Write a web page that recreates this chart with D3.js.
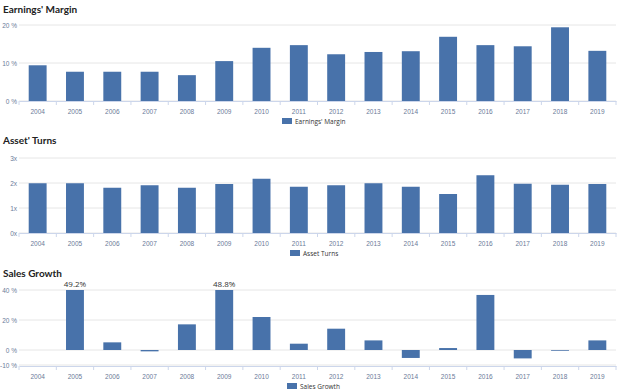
<!DOCTYPE html>
<html>
<head>
<meta charset="utf-8">
<script src="https://cdn.jsdelivr.net/npm/d3@7"></script>
<style>
  body { margin: 0; background: #fff; }
  svg { font-family: "Open Sans", "DejaVu Sans", sans-serif; }
  .title { font-family: Lato, "Open Sans", sans-serif; font-weight: bold; font-size: 10px; fill: #222; }
  .tick text { fill: #6b7a99; font-size: 6.5px; }
  .legend-text { fill: #333; font-size: 6.5px; }
</style>
</head>
<body>
<script>
const years = ["2004","2005","2006","2007","2008","2009","2010","2011","2012","2013","2014","2015","2016","2017","2018","2019"];

const earningsMargin = [9.4, 7.7, 7.7, 7.7, 6.8, 10.5, 14.0, 14.7, 12.3, 12.9, 13.1, 16.9, 14.7, 14.4, 19.4, 13.2];
const assetTurns = [1.99, 1.99, 1.81, 1.91, 1.81, 1.96, 2.17, 1.85, 1.91, 1.99, 1.85, 1.56, 2.31, 1.97, 1.93, 1.96];
const salesGrowth = [null, 49.2, 5.1, -0.9, 17.1, 48.8, 22.0, 4.2, 14.2, 6.4, -5.3, 1.3, 36.7, -5.6, -0.5, 6.4];

const marginTicks = [0, 10, 20];
const turnsTicks = [0, 1, 2, 3];
const growthTicks = [-10, 0, 20, 40];

const width = 624, height = 392;
const color = "#4872aa";

const svg = d3.select("body").append("svg")
  .attr("width", width)
  .attr("height", height);

const x = d3.scaleBand().domain(years).range([19, 616]).paddingInner(0.52).paddingOuter(0.26);

function panel(opts) {
  const g = svg.append("g");
  const y = d3.scaleLinear().domain(opts.domain).range([opts.bottom, opts.top]);

  g.append("text").attr("class", "title")
    .attr("x", 3).attr("y", opts.titleY)
    .text(opts.title);

  // grid
  g.selectAll(".grid").data(opts.ticks).enter().append("line")
    .attr("x1", 19).attr("x2", 616)
    .attr("y1", d => y(d)).attr("y2", d => y(d))
    .attr("stroke", "#e6e6e6").attr("stroke-width", 1);

  const yAxis = g.append("g")
    .attr("transform", "translate(17,0)")
    .call(d3.axisLeft(y).tickValues(opts.ticks).tickSize(0).tickPadding(0).tickFormat(opts.fmt));
  yAxis.select(".domain").remove();

  const cap = opts.cap;
  g.selectAll(".bar").data(years.map((yr, i) => ({yr, v: opts.values[i]})).filter(d => d.v !== null))
    .enter().append("rect")
    .attr("x", d => x(d.yr))
    .attr("width", x.bandwidth())
    .attr("y", d => y(Math.max(0, cap !== undefined ? Math.min(d.v, cap) : d.v)))
    .attr("height", d => Math.abs(y(cap !== undefined ? Math.min(d.v, cap) : d.v) - y(0)))
    .attr("fill", color);

  if (cap !== undefined) {
    g.selectAll(".lbl").data(years.map((yr, i) => ({yr, v: opts.values[i]})).filter(d => d.v !== null && d.v > cap))
      .enter().append("text")
      .attr("x", d => x(d.yr) + x.bandwidth() / 2)
      .attr("y", y(cap) - 3)
      .attr("text-anchor", "middle")
      .attr("font-size", "8px")
      .attr("fill", "#333")
      .text(d => d.v.toFixed(1) + "%");
  }

  const axisY = opts.axisY;
  const xAxis = g.append("g")
    .attr("transform", `translate(0,${axisY})`)
    .call(d3.axisBottom(x).tickSize(0).tickPadding(8));
  xAxis.select(".domain").attr("stroke", "#ccd6eb");
  // tick marks at band boundaries
  const step = x.step();
  g.selectAll(".bt").data(d3.range(years.length + 1)).enter().append("line")
    .attr("x1", i => 19 + i * (597 / years.length)).attr("x2", i => 19 + i * (597 / years.length))
    .attr("y1", axisY).attr("y2", axisY + 4)
    .attr("stroke", "#ccd6eb");

  const lg = g.append("g").attr("transform", `translate(${opts.legendX},${opts.legendY})`);
  lg.append("rect").attr("x", 0).attr("y", -4).attr("width", 10).attr("height", 6).attr("fill", color);
  lg.append("text").attr("class", "legend-text").attr("x", 13).attr("y", 2).text(opts.legend);
}

panel({
  title: "Earnings' Margin", titleY: 13,
  domain: [0, 20], top: 25, bottom: 101, axisY: 101,
  ticks: marginTicks, fmt: d => d + " %",
  values: earningsMargin,
  legend: "Earnings' Margin", legendX: 282, legendY: 122
});

panel({
  title: "Asset' Turns", titleY: 144,
  domain: [0, 3], top: 158, bottom: 233, axisY: 233,
  ticks: turnsTicks, fmt: d => d + "x",
  values: assetTurns,
  legend: "Asset Turns", legendX: 290, legendY: 254
});

panel({
  title: "Sales Growth", titleY: 277,
  domain: [-10, 40], top: 290, bottom: 365, axisY: 366,
  ticks: growthTicks, fmt: d => d + " %",
  values: salesGrowth, cap: 40,
  legend: "Sales Growth", legendX: 287, legendY: 387
});
</script>
</body>
</html>
